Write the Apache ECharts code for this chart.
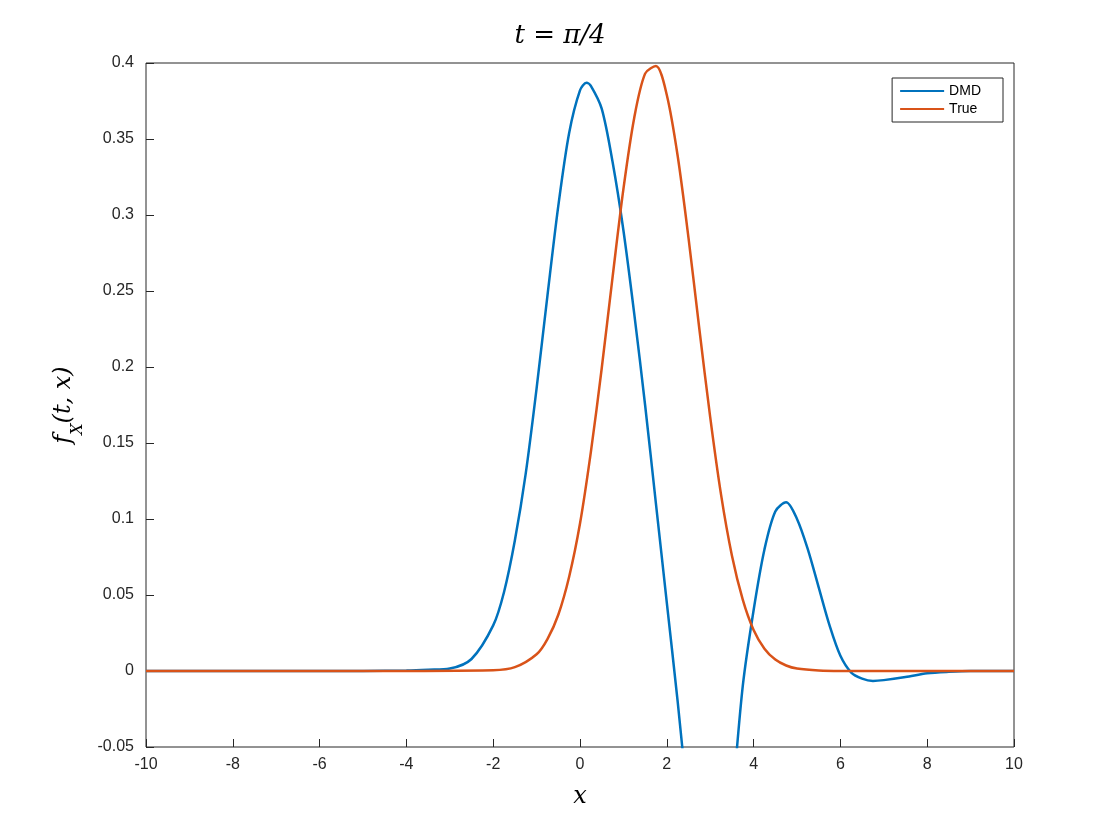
<!DOCTYPE html>
<html><head><meta charset="utf-8">
<script src="https://cdn.jsdelivr.net/npm/echarts@6/dist/echarts.min.js"></script>
<style>html,body{margin:0;padding:0;background:#fff}#c{width:1120px;height:840px}</style>
</head><body><div id="c"></div>
<script>
const dmdX = [-10,-5,-4,-3.5,-3,-2.5,-2,-1.75,-1.5,-1.25,-1,-0.75,-0.5,-0.25,0,0.15,0.25,0.5,0.75,1,1.25,1.5,1.75,2,2.25,2.5,2.75,3,3.25,3.5,3.75,4,4.25,4.5,4.75,5,5.25,5.5,5.75,6,6.25,6.5,6.75,7,7.5,8,8.5,9,10];
const dmdY = [0,0,0.0003,0.0008,0.0016,0.0079,0.030,0.052,0.086,0.130,0.186,0.247,0.306,0.354,0.382,0.387,0.385,0.370,0.335,0.290,0.235,0.175,0.110,0.045,-0.020,-0.090,-0.150,-0.190,-0.170,-0.090,-0.010,0.040,0.080,0.105,0.111,0.100,0.080,0.055,0.030,0.010,-0.001,-0.005,-0.0065,-0.006,-0.004,-0.0015,-0.0005,0,0];
const trueX = [-10,-5,-2,-1.5,-1,-0.75,-0.5,-0.25,0,0.25,0.5,0.75,1,1.25,1.5,1.75,2,2.25,2.5,2.75,3,3.25,3.5,3.75,4,4.25,4.5,4.75,5,5.5,6,10];
const trueY = [0,0,0.0005,0.0025,0.011,0.021,0.037,0.062,0.097,0.144,0.199,0.259,0.317,0.364,0.393,0.398,0.379,0.339,0.285,0.225,0.167,0.116,0.076,0.047,0.027,0.0147,0.0075,0.0036,0.0016,0.0003,0,0];
const xTicks = [-10,-8,-6,-4,-2,0,2,4,6,8,10];
const seriesNames = ['DMD','True'];
const pair = (xs, ys) => xs.map((x, i) => [x, ys[i]]);
const chart = echarts.init(document.getElementById('c'));
const ax = '#262626';
chart.setOption({
  animation:false,
  title:{text:'t = π/4',left:'center',top:18,textStyle:{fontFamily:'DejaVu Serif',fontStyle:'italic',fontWeight:'normal',fontSize:26,color:'#000'}},
  grid:{left:146,right:106,top:63,bottom:93,show:true,borderColor:ax,borderWidth:1},
  legend:{data:seriesNames,orient:'vertical',right:117,top:78,itemWidth:44,itemHeight:2,itemGap:4,
    backgroundColor:'#fff',borderColor:ax,borderWidth:1,padding:[6,22,6,8],
    textStyle:{fontFamily:'Liberation Sans',fontSize:14,color:'#000'},icon:'rect'},
  xAxis:{type:'value',min:-10,max:10,interval:2,
    name:'x',nameLocation:'middle',nameGap:38,nameTextStyle:{fontFamily:'DejaVu Serif',fontStyle:'italic',fontSize:24,color:'#000'},
    axisLine:{show:false,onZero:false},axisTick:{inside:true,length:8,lineStyle:{color:ax}},splitLine:{show:false},
    axisLabel:{fontFamily:'Liberation Sans',fontSize:16,color:ax,margin:10}},
  yAxis:{type:'value',min:-0.05,max:0.4,interval:0.05,
    name:'{i|f}{s|X}{i|(t, x)}',nameLocation:'middle',nameGap:70,
    nameTextStyle:{rich:{i:{fontFamily:'DejaVu Serif',fontStyle:'italic',fontSize:24,color:'#000'},s:{fontFamily:'DejaVu Serif',fontStyle:'italic',fontSize:16,color:'#000',verticalAlign:'bottom',padding:[0,0,-10,0]}}},
    axisLine:{show:false,onZero:false},axisTick:{inside:true,length:8,lineStyle:{color:ax}},splitLine:{show:false},
    axisLabel:{fontFamily:'Liberation Sans',fontSize:16,color:ax,margin:12,formatter:v=>String(Math.round(v*100)/100)}},
  series:[
    {name:seriesNames[0],type:'line',smooth:0.3,showSymbol:false,clip:true,data:pair(dmdX,dmdY),lineStyle:{color:'#0072BD',width:2.5},itemStyle:{color:'#0072BD'}},
    {name:seriesNames[1],type:'line',smooth:0.3,showSymbol:false,clip:true,data:pair(trueX,trueY),lineStyle:{color:'#D95319',width:2.5},itemStyle:{color:'#D95319'}}
  ]
});
</script></body></html>
